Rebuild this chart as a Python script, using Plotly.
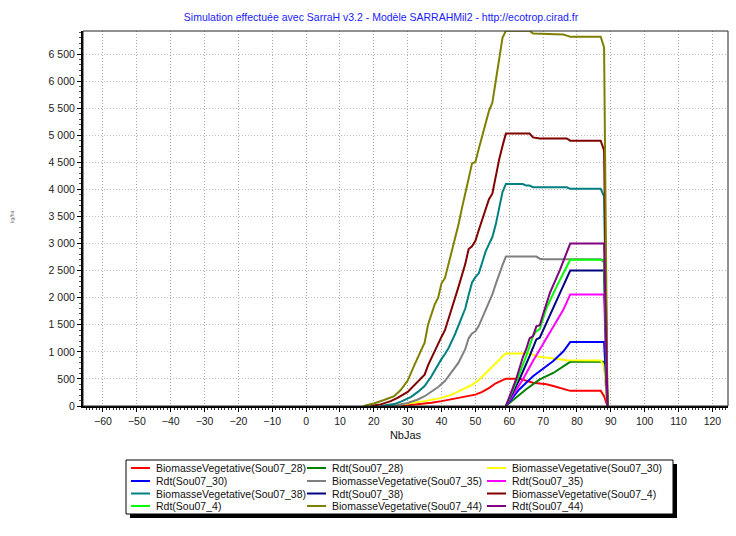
import plotly.graph_objects as go

# ---- Simulation output: NbJas (days) and values per variable ----
bv28_days = [28, 33, 37, 40, 45, 50, 52, 54, 56, 58, 59, 63, 65, 67, 69, 71, 73, 75, 77, 78, 87, 88, 89]
bv28_vals = [0, 30, 60, 90, 150, 210, 260, 330, 420, 480, 505, 505, 470, 430, 415, 400, 370, 335, 295, 280, 280, 180, 0]

rdt28_days = [59, 65, 69, 73, 78, 88, 89]
rdt28_vals = [0, 310, 490, 610, 815, 815, 0]

bv30_days = [25, 30, 35, 40, 43, 45, 47, 49, 51, 53, 55, 57, 58, 59, 66, 67, 68, 70, 72, 75, 77, 87, 88, 89]
bv30_vals = [0, 40, 90, 150, 210, 270, 330, 390, 480, 600, 720, 850, 920, 970, 970, 940, 920, 900, 885, 870, 845, 840, 740, 0]

rdt30_days = [59, 63, 67, 69, 73, 76, 78, 88, 89]
rdt30_vals = [0, 310, 550, 640, 830, 1010, 1180, 1180, 0]

bv35_days = [24, 27, 30, 33, 35, 37, 39, 41, 43, 45, 47, 48, 49, 50, 51, 52, 53, 54, 55, 56, 57, 58, 59, 68, 69, 70, 87, 88, 89]
bv35_vals = [0, 20, 55, 120, 180, 260, 350, 460, 620, 800, 1050, 1250, 1340, 1380, 1480, 1630, 1780, 1930, 2060, 2250, 2440, 2600, 2760, 2760, 2720, 2710, 2710, 2650, 0]

rdt35_days = [59, 64, 67, 69, 73, 76, 78, 88, 89]
rdt35_vals = [0, 490, 830, 1040, 1470, 1780, 2060, 2060, 0]

bv38_days = [22, 26, 28, 31, 33, 35, 37, 39, 40, 41, 42, 44, 46, 47, 48, 49, 50, 51, 52, 53, 54, 55, 56, 57, 58, 59, 64, 65, 66, 67, 77, 78, 87, 88, 89]
bv38_vals = [0, 35, 80, 170, 260, 370, 550, 780, 870, 960, 1060, 1330, 1630, 1800, 2050, 2280, 2380, 2450, 2650, 2850, 2990, 3120, 3350, 3650, 3950, 4100, 4100, 4070, 4070, 4040, 4040, 4010, 4010, 3870, 0]

rdt38_days = [59, 63, 66, 68, 69, 72, 75, 78, 88, 89]
rdt38_vals = [0, 490, 920, 1230, 1260, 1660, 2090, 2500, 2500, 0]

bv4_days = [19, 22, 25, 27, 30, 33, 35, 36, 37, 39, 40, 41, 43, 45, 47, 48, 49, 50, 51, 52, 53, 54, 55, 56, 57, 58, 59, 66, 67, 69, 77, 78, 87, 88, 89]
bv4_vals = [0, 30, 90, 150, 260, 450, 580, 750, 890, 1170, 1280, 1400, 1780, 2200, 2620, 2900, 2950, 3050, 3250, 3450, 3650, 3820, 3920, 4250, 4550, 4800, 5030, 5030, 4960, 4940, 4940, 4900, 4900, 4720, 0]

rdt4_days = [59, 62, 64, 65, 67, 68, 69, 71, 74, 77, 78, 88, 89]
rdt4_vals = [0, 430, 760, 920, 1290, 1380, 1420, 1810, 2210, 2580, 2700, 2700, 0]

bv44_days = [17, 20, 23, 26, 28, 30, 32, 34, 35, 36, 37, 38, 39, 40, 41, 42, 43, 44, 45, 46, 47, 48, 49, 50, 51, 52, 53, 54, 55, 56, 57, 58, 59, 66, 67, 72, 76, 77, 78, 87, 88, 89]
bv44_vals = [0, 45, 110, 180, 300, 470, 760, 1050, 1170, 1500, 1700, 1880, 2000, 2270, 2360, 2600, 2850, 3100, 3350, 3650, 3900, 4200, 4480, 4510, 4750, 5000, 5200, 5450, 5600, 6000, 6450, 6800, 6930, 6930, 6880, 6870, 6860, 6840, 6820, 6820, 6620, 0]

rdt44_days = [59, 62, 64, 65, 66, 67, 68, 69, 70, 72, 75, 78, 88, 89]
rdt44_vals = [0, 490, 900, 1050, 1250, 1290, 1470, 1490, 1700, 2090, 2520, 3000, 3000, 0]

series_names = [
    "BiomasseVegetative(Sou07_28)", "Rdt(Sou07_28)", "BiomasseVegetative(Sou07_30)",
    "Rdt(Sou07_30)", "BiomasseVegetative(Sou07_35)", "Rdt(Sou07_35)",
    "BiomasseVegetative(Sou07_38)", "Rdt(Sou07_38)", "BiomasseVegetative(Sou07_4)",
    "Rdt(Sou07_4)", "BiomasseVegetative(Sou07_44)", "Rdt(Sou07_44)",
]
series_days = [bv28_days, rdt28_days, bv30_days, rdt30_days, bv35_days, rdt35_days,
               bv38_days, rdt38_days, bv4_days, rdt4_days, bv44_days, rdt44_days]
series_vals = [bv28_vals, rdt28_vals, bv30_vals, rdt30_vals, bv35_vals, rdt35_vals,
               bv38_vals, rdt38_vals, bv4_vals, rdt4_vals, bv44_vals, rdt44_vals]
series_colors = ["#ff0000", "#008000", "#ffff00", "#0000ff", "#808080", "#ff00ff",
                 "#008080", "#000080", "#800000", "#00ff00", "#808000", "#800080"]

x_tick_values = list(range(-60, 121, 10))
y_tick_values = list(range(0, 7000, 500))

# ---- page geometry (pixels) ----
W, H = 736, 536
ML, MR, MT, MB = 83, 8, 31, 130
PW, PH = W - ML - MR, H - MT - MB


def fx(px):
    return (px - ML) / PW


def fy(py):
    return (H - MB - py) / PH


FONT = "Liberation Sans, Arial, sans-serif"

fig = go.Figure()
for name, d, v, c in zip(series_names, series_days, series_vals, series_colors):
    fig.add_trace(go.Scatter(x=d, y=v, mode="lines", name=name,
                             line=dict(color=c, width=2), showlegend=False))

# ---- boxed legend with drop shadow, three columns ----
shapes = [
    dict(type="rect", xref="paper", yref="paper", x0=0, x1=1, y0=0, y1=1,
         line=dict(color="#222222", width=1), layer="above"),
    dict(type="rect", xref="paper", yref="paper", x0=fx(130), x1=fx(677), y0=fy(518), y1=fy(464),
         fillcolor="black", line=dict(width=0)),
    dict(type="rect", xref="paper", yref="paper", x0=fx(126), x1=fx(673), y0=fy(514), y1=fy(460),
         fillcolor="white", line=dict(color="black", width=1)),
]
annotations = []
col_x = [131, 307, 487]
row_y = [468, 481, 493.5, 506]
for i, (name, c) in enumerate(zip(series_names, series_colors)):
    lx, ly = col_x[i % 3], row_y[i // 3]
    shapes.append(dict(type="line", xref="paper", yref="paper", x0=fx(lx), x1=fx(lx + 19),
                       y0=fy(ly), y1=fy(ly), line=dict(color=c, width=2)))
    annotations.append(dict(xref="paper", yref="paper", x=fx(lx + 23), y=fy(ly), text=name,
                            showarrow=False, xanchor="left", yanchor="middle",
                            font=dict(family=FONT, size=10.5, color="#111111")))

annotations.append(dict(xref="paper", yref="paper", x=fx(12), y=fy(217), text="kg/ha",
                        textangle=-90, showarrow=False, xanchor="center", yanchor="middle",
                        font=dict(family=FONT, size=5, color="#777777")))

fig.update_layout(
    width=W, height=H,
    margin=dict(l=ML, r=MR, t=MT, b=MB, pad=0),
    paper_bgcolor="white", plot_bgcolor="white",
    separators=", ",
    font=dict(family=FONT, size=10.5, color="#222222"),
    title=dict(text="Simulation effectuée avec SarraH v3.2 - Modèle SARRAHMil2 - http://ecotrop.cirad.fr",
               x=381 / W, xanchor="center", y=1 - 17 / H, yanchor="middle",
               font=dict(family=FONT, size=10.5, color="#1a1aff")),
    shapes=shapes,
    annotations=annotations,
    showlegend=False,
)
fig.update_xaxes(
    range=[-65.9, 124.6], tickvals=x_tick_values,
    ticks="outside", ticklen=4, tickcolor="black", tickwidth=1,
    showline=True, linecolor="black", linewidth=2,
    showgrid=True, gridcolor="#a8a8a8", griddash="1px,2px", gridwidth=1,
    zeroline=False,
    minor=dict(dtick=1, tick0=0, ticks="outside", ticklen=2, tickcolor="#333333", showgrid=False),
    title=dict(text="NbJas", standoff=6, font=dict(family=FONT, size=11, color="#111111")),
)
fig.update_yaxes(
    range=[0, 6925], tickvals=y_tick_values, tickformat=",d",
    ticks="outside", ticklen=4, tickcolor="black", tickwidth=1,
    showline=True, linecolor="black", linewidth=2,
    showgrid=True, gridcolor="#bcbcbc", griddash="1px,2px", gridwidth=1,
    zeroline=False,
    minor=dict(dtick=100, tick0=0, ticks="outside", ticklen=2, tickcolor="#555555", showgrid=False),
)

fig.write_html("out.html")
